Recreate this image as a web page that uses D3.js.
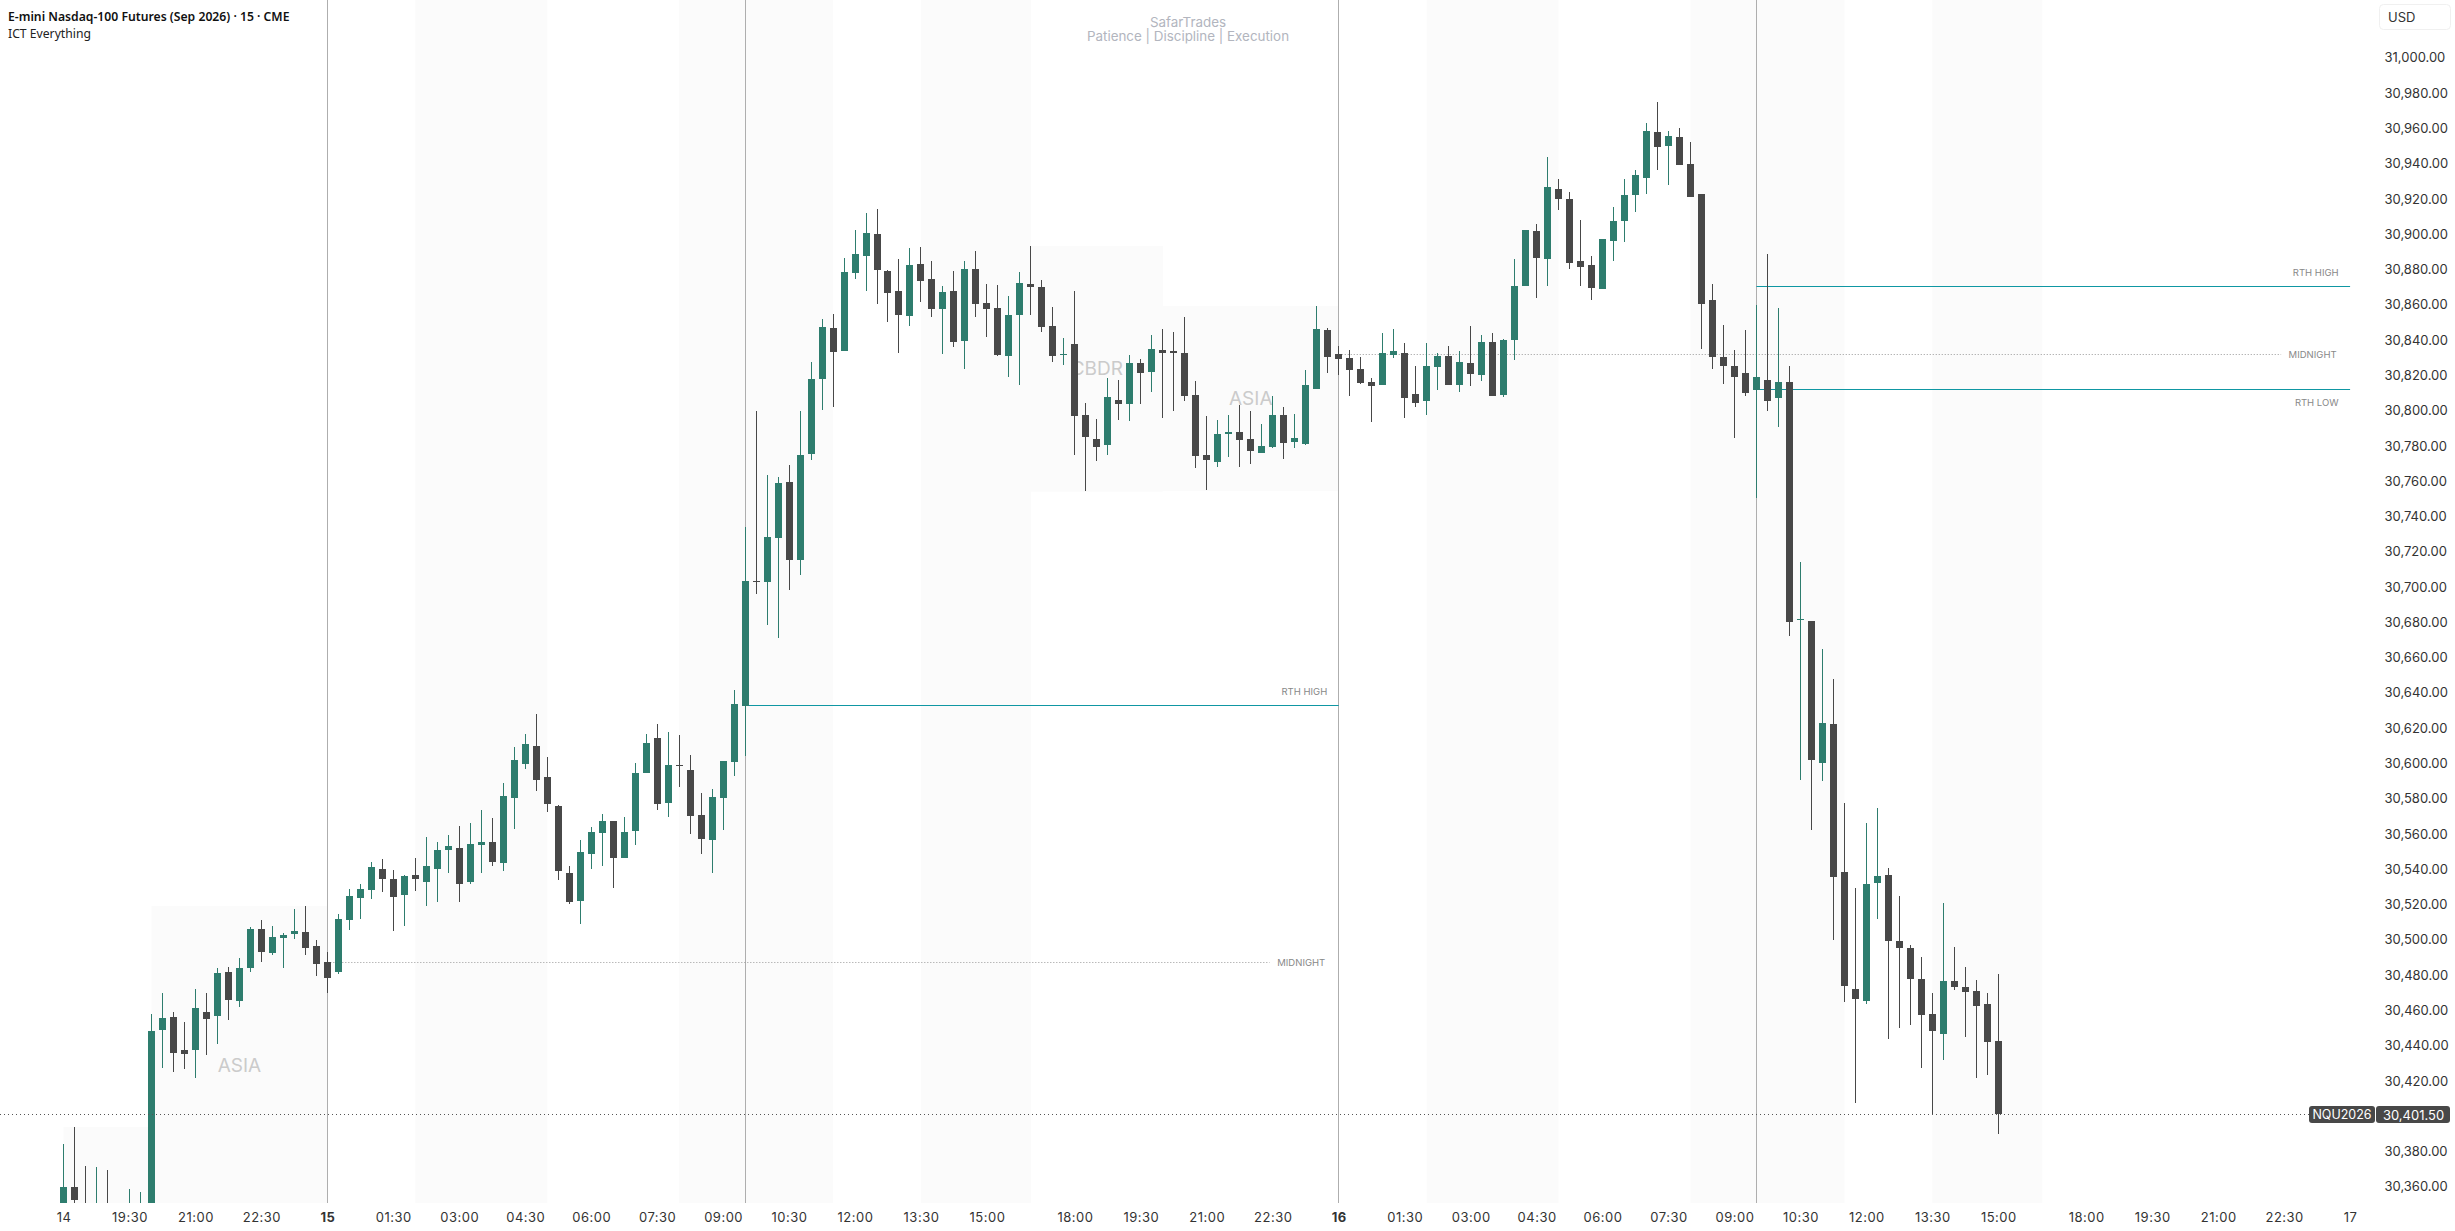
<!DOCTYPE html>
<html>
<head>
<meta charset="utf-8">
<title>NQU2026</title>
<script src="https://cdn.jsdelivr.net/npm/d3@7"></script>
<style>
  html, body { margin: 0; padding: 0; background: #fff; overflow: hidden; }
  svg { display: block; font-family: Inter, sans-serif; }
</style>
</head>
<body>
<svg id="chart" width="2455" height="1231"></svg>
<script>
// 15 min bars, index 0 = 14th 18:00. Session is 92 bars (17:00-18:00 is closed)
const opens = [
  30345,30360.2,30349,30338,30346,30336,30334,30338,30345,30449.2,
  30456.6,30437.8,30437.8,30459.4,30457.1,30482.1,30465.6,30484.3,30506.5,30492.8,
  30501.4,30503.6,30504.8,30496.8,30487.7,30482.1,30511.6,30524,30528.6,30540.5,
  30534.8,30525.7,30537.1,30533.1,30540.5,30551.2,30552.4,30533.1,30554.1,30555.8,
  30543.9,30580.7,30600,30610.2,30592.6,30576.2,30538.2,30522.3,30549,30560.9,
  30567.7,30546.7,30562,30594.9,30614.8,30577.9,30599.4,30596.6,30571.1,30556.9,
  30580.7,30601.1,30632.9,30703.7,30703.2,30728.1,30759.9,30715.6,30775.7,30818.3,
  30847.2,30834.1,30878.4,30888,30900.5,30879.5,30868.2,30854,30883.5,30875,
  30858,30868.2,30839.8,30880.6,30861.4,30858.5,30831.3,30854.6,30872.1,30870.4,
  30848.3,30832,30838.1,30797.9,30784.2,30780.8,30806.4,30804.1,30827.3,30822.2,
  30834.7,30834.1,30833,30809.2,30775.2,30771.2,30787.2,30788.2,30784.2,30776.3,
  30779.7,30797.8,30782.5,30781.4,30812.6,30846,30832.4,30830.2,30823.9,30816.5,
  30814.8,30831.9,30833,30809.7,30805.8,30825.1,30831.3,30814.8,30827.3,30820.5,
  30839.2,30809.2,30840.3,30871,30902.2,30886.3,30926,30920.3,30885.1,30882.9,
  30869.3,30896.5,30907.8,30922.6,30932.2,30958.3,30950.3,30955.5,30940.1,30923.1,
  30863,30830.7,30825.6,30821.6,30812,30817.7,30807.5,30816.5,30681.8,30681,
  30600.5,30622.6,30538.8,30472.4,30465.6,30532.5,30537.1,30499.7,30495.7,30478.1,
  30458.3,30446.9,30477,30473.6,30471.3,30463.9,30443
];
const highs = [
  30384.6,30394.2,30372.1,30371.5,30369.8,30350,30359,30357.3,30458.3,30470.2,
  30459.4,30453.7,30472.4,30470.2,30484.3,30484.9,30490,30507.6,30511.6,30508.2,
  30504.2,30517.8,30519.5,30500.2,30493.4,30515,30529.1,30532,30544.4,30546.1,
  30539.9,30537.1,30546.7,30558.6,30555.8,30559.8,30564.9,30566.6,30573.9,30569.4,
  30589.2,30609.7,30617,30628.4,30604,30576.8,30542.2,30556.9,30564.3,30571.7,
  30567.7,30570,30600.6,30617,30622.7,30618.2,30616.5,30605.1,30583.6,30585.8,
  30601.7,30642,30734.4,30800.1,30763.8,30762.7,30769.5,30800.1,30827.9,30852.3,
  30855.1,30886.9,30902.7,30912.4,30914.7,30880.1,30886.3,30892.5,30893.1,30885.2,
  30871,30879.5,30885.2,30890.8,30872.1,30871.6,30865.3,30878.9,30893.7,30874.4,
  30859.1,30841.5,30868.2,30804.7,30795.6,30818.8,30817.7,30831.9,30829.6,30843.2,
  30846.6,30844.9,30853.4,30817.1,30797.3,30795,30797.8,30803.5,30800.1,30792.7,
  30808.6,30802.4,30798.4,30823.4,30859.6,30847.2,30837,30834.7,30830.7,30818.8,
  30844.3,30846.6,30838.7,30825.6,30838.7,30833,30837,30834.1,30848.3,30843.2,
  30844.3,30840.9,30886.3,30902.7,30906.1,30944.1,30931.6,30924.3,30908.4,30888,
  30897.6,30915.8,30931.6,30936.7,30963.4,30975.3,30958.9,30960.6,30952.6,30923.1,
  30872.1,30848.9,30834.7,30846,30860.2,30889.1,30858.5,30825.6,30714.5,30681,
  30665.2,30648.2,30577.9,30529.7,30566.6,30575.1,30541,30525.2,30497.4,30490.6,
  30470.2,30521.2,30496.3,30484.9,30477.5,30470.2,30480.9
];
const lows = [
  30335,30340,30335,30332,30330,30328,30328,30330,30340,30427.6,
  30425.4,30427.1,30422,30435,30441.3,30454.9,30462.2,30482.1,30487.7,30491.7,
  30484.3,30500.8,30491.7,30479.8,30470.2,30480.9,30505.9,30512.1,30523.5,30527.4,
  30505.3,30508.2,30528,30519.5,30521.8,30538.2,30521.8,30532,30538.2,30542.2,
  30539.3,30563.2,30597.2,30584.7,30572.8,30534.2,30520.6,30509.3,30540.5,30542.2,
  30529.7,30546.7,30554.1,30594.9,30573.9,30570,30587,30560.3,30549,30538.2,
  30562.6,30593.2,30604.5,30696.4,30678.8,30671.4,30698.6,30707.1,30772.3,30800.7,
  30802.4,30834.1,30875,30868.2,30860.8,30850.6,30833,30848.3,30861.9,30853.4,
  30832.4,30836.4,30823.9,30853.4,30842.1,30831.3,30819.4,30814.9,30854.6,30844.9,
  30827.9,30826.2,30775.2,30754.8,30771.8,30775.2,30795,30794.5,30804.1,30810.9,
  30796.2,30800.1,30805.8,30767.8,30755.3,30768.4,30774,30768.4,30770.1,30776.3,
  30779.1,30772.9,30779.1,30780.8,30812.6,30821.6,30820.5,30808.6,30815.4,30793.9,
  30814.8,30830.2,30796.1,30802.4,30797.8,30812,30814.8,30810.9,30814.3,30817.1,
  30808.6,30808,30829,30871,30864.2,30871,30914.1,30880.6,30871,30863,
  30869.3,30885.1,30895.9,30912.9,30923.1,30936.7,30928.2,30939.6,30921.4,30835.2,
  30823.9,30815.4,30784.8,30808.6,30750.8,30800.1,30791,30672.5,30590.9,30562.5,
  30590.3,30500.2,30465.1,30407.8,30463.9,30512.1,30444.1,30450.3,30452,30427.6,
  30401,30432.2,30471.9,30445.2,30422,30423.7,30390.2
];
const closes = [
  30360.2,30353,30342,30346,30338,30342,30345,30348,30448.6,30456,
  30436.1,30435.6,30461.7,30455.4,30481.5,30466.2,30484.3,30506.5,30493.4,30501.9,
  30503.1,30505.3,30495.7,30486.6,30478.7,30512.1,30525.2,30529.1,30541.6,30534.8,
  30524.6,30536.5,30534.8,30542.2,30551.2,30553.5,30532,30554.7,30555.8,30544.4,
  30581.9,30602.3,30611.4,30590.9,30577.3,30539.3,30521.8,30550.1,30561.5,30567.7,
  30546.7,30561.5,30594.9,30611.9,30577.3,30599.4,30599,30570.5,30557.5,30581.3,
  30601.7,30634,30703.7,30703.3,30728.7,30759.3,30715.6,30775.2,30818.3,30847.8,
  30833.6,30878.9,30889.1,30901,30880.1,30867,30854.6,30882.9,30873.8,30858,
  30867.6,30839.2,30880.6,30860.8,30858,30831.9,30854.6,30872.7,30870.4,30847.8,
  30831.3,30832.4,30797.3,30785.4,30779.7,30808.1,30804.1,30827.3,30821.7,30835.3,
  30833,30833,30808.6,30774.6,30772.3,30787.1,30788.2,30783.7,30777.4,30780.3,
  30797.8,30782,30784.8,30814.8,30846.6,30830.7,30829.6,30823.4,30816,30814.3,
  30833,30834.1,30807.5,30804.6,30825.6,30831.3,30814.8,30827.9,30821.1,30839.2,
  30808.6,30840.4,30871,30902.7,30886.8,30927.1,30920.3,30884,30881.7,30869.8,
  30897.6,30907.8,30922.6,30933.9,30958.9,30949.8,30956,30939.6,30921.4,30860.8,
  30830.7,30825.6,30819.4,30810.3,30819.4,30805.8,30816.5,30680.5,30682.2,30602.2,
  30623.2,30535.9,30474.1,30466.8,30532,30536.5,30499.7,30495.7,30478.1,30457.7,
  30448.6,30477,30473.6,30470.7,30462.8,30442.4,30401.5
];

const lastPrice = 30401.5;
const priceTicks = d3.range(30360, 31001, 20);
const timeTickBars = [0,6,12,18,24,30,36,42,48,54,60,66,72,78,84,92,98,104,110,116,122,128,134,140,146,152,158,164,170,176,184,190,196,202,208];
const timeTickLabels = ["14","19:30","21:00","22:30","15","01:30","03:00","04:30","06:00","07:30","09:00","10:30","12:00","13:30","15:00","18:00","19:30","21:00","22:30","16","01:30","03:00","04:30","06:00","07:30","09:00","10:30","12:00","13:30","15:00","18:00","19:30","21:00","22:30","17"];
const boldTicks = ["15", "16"];

// full height kill zone bands, bar index from/to
const bandFrom = [32, 56, 78, 124, 148, 170];
const bandTo = [44, 70, 88, 136, 162, 180];

// session boxes, the label sits in the middle of the box
const boxNames = ["", "ASIA", "CBDR", "ASIA"];
const boxFrom = [0, 8, 88, 100];
const boxTo = [8, 24, 100, 116];
const boxHigh = [30394.2, 30519.5, 30893.7, 30859.6];
const boxLow = [30328, 30338.5, 30754.4, 30754.8];

const sessionBars = [24, 62, 116, 154];

// levels: name, price, bar from, bar to
const levelNames = ["RTH HIGH", "MIDNIGHT", "RTH HIGH", "RTH LOW", "MIDNIGHT"];
const levelPrices = [30633.3, 30487.6, 30870.8, 30812.4, 30832.3];
const levelFrom = [62, 24, 154, 154, 116];
const levelTo = [116, 116, 208, 208, 208];

const green = "#2e7d6e";
const dark = "#484848";
const band = "#fbfbfb";

const plotBottom = 1203;

const x = d3.scaleLinear().domain([0, 208]).range([63.5, 2350.1]);
const y = d3.scaleLinear().domain([30351.16, 31033.15]).range([plotBottom, 0]);

const svg = d3.select("#chart");

svg.append("defs").append("clipPath").attr("id", "plot")
  .append("rect").attr("width", 2355).attr("height", plotBottom);

const plot = svg.append("g").attr("clip-path", "url(#plot)");

// Bands
plot.selectAll("rect.band")
  .data(bandFrom)
  .join("rect")
  .classed("band", true)
  .attr("x", (d) => x(d))
  .attr("y", 0)
  .attr("width", (d, i) => x(bandTo[i]) - x(d))
  .attr("height", plotBottom)
  .attr("fill", band);

// Session boxes
plot.selectAll("rect.box")
  .data(boxFrom)
  .join("rect")
  .classed("box", true)
  .attr("x", (d) => x(d))
  .attr("y", (d, i) => y(boxHigh[i]))
  .attr("width", (d, i) => x(boxTo[i]) - x(d))
  .attr("height", (d, i) => y(boxLow[i]) - y(boxHigh[i]))
  .attr("fill", band);

plot.selectAll("text.box-label")
  .data(boxNames)
  .join("text")
  .classed("box-label", true)
  .attr("x", (d, i) => x((boxFrom[i] + boxTo[i]) / 2))
  .attr("y", (d, i) => y((boxHigh[i] + boxLow[i]) / 2))
  .attr("text-anchor", "middle")
  .attr("dominant-baseline", "central")
  .attr("font-size", 19)
  .attr("fill", "#cbcbcb")
  .text((d) => d);

// Session lines
plot.selectAll("rect.session")
  .data(sessionBars)
  .join("rect")
  .classed("session", true)
  .attr("x", (d) => Math.round(x(d) - 0.5))
  .attr("y", 0)
  .attr("width", 1)
  .attr("height", plotBottom)
  .attr("fill", "#aeaeae");

// Levels
levelNames.forEach(function (name, i) {
  const midnight = name === "MIDNIGHT";
  const end = x(levelTo[i]);
  const ly = Math.round(y(levelPrices[i])) + 0.5;
  plot.append("line")
    .attr("x1", x(levelFrom[i]))
    .attr("x2", midnight ? end - 69 : end)
    .attr("y1", ly)
    .attr("y2", ly)
    .attr("stroke", midnight ? "#999" : "#0f97a3")
    .attr("stroke-width", 1)
    .attr("stroke-dasharray", midnight ? "1 2" : null);
  plot.append("text")
    .attr("x", end - (midnight ? 13.5 : 11.5))
    .attr("y", ly + (midnight ? 0 : name === "RTH HIGH" ? -14 : 13))
    .attr("text-anchor", "end")
    .attr("dominant-baseline", "central")
    .attr("font-size", 9.5)
    .attr("fill", "#888")
    .text(name);
});

// Candles
const candles = plot.append("g").selectAll("g")
  .data(closes)
  .join("g")
  .attr("fill", (d, i) => (d >= opens[i] ? green : dark))
  .attr("shape-rendering", "crispEdges");

candles.append("rect")
  .attr("x", (d, i) => Math.round(x(i) - 0.5))
  .attr("y", (d, i) => y(highs[i]))
  .attr("width", 1)
  .attr("height", (d, i) => y(lows[i]) - y(highs[i]));

candles.append("rect")
  .attr("x", (d, i) => Math.round(x(i) - 0.5) - 3)
  .attr("y", (d, i) => y(Math.max(d, opens[i])))
  .attr("width", 7)
  .attr("height", (d, i) => Math.max(1, Math.abs(y(d) - y(opens[i]))));

// Last price line
const lastY = Math.round(y(lastPrice)) + 0.5;
svg.append("line")
  .attr("x1", 0)
  .attr("x2", 2309)
  .attr("y1", lastY)
  .attr("y2", lastY)
  .attr("stroke", "#555")
  .attr("stroke-dasharray", "1 3");

// Axes
const yAxis = svg.append("g")
  .attr("transform", "translate(2379,-0.7)")
  .call(d3.axisRight(y).tickValues(priceTicks).tickSize(0).tickPadding(5.5)
    .tickFormat(d3.format(",.2f")));
yAxis.select(".domain").remove();
yAxis.selectAll("text")
  .attr("font-family", "Inter, sans-serif")
  .attr("font-size", 13)
  .attr("fill", "#333");

const xAxis = svg.append("g")
  .attr("transform", `translate(0,${plotBottom})`)
  .call(d3.axisBottom(x).tickValues(timeTickBars).tickSize(0).tickPadding(9.5)
    .tickFormat((d, i) => timeTickLabels[i]));
xAxis.select(".domain").remove();
xAxis.selectAll("text")
  .attr("font-family", "Inter, sans-serif")
  .attr("font-size", 13)
  .attr("letter-spacing", "0.5px")
  .attr("fill", "#333")
  .attr("font-weight", (d, i) => (boldTicks.includes(timeTickLabels[i]) ? 700 : 400));

// Price tags
svg.append("rect").attr("x", 2309).attr("y", 1106).attr("width", 66).attr("height", 17).attr("rx", 3).attr("fill", dark);
svg.append("rect").attr("x", 2376).attr("y", 1106).attr("width", 74).attr("height", 17).attr("rx", 3).attr("fill", dark);
svg.append("text").attr("x", 2342).attr("y", 1114.5).attr("text-anchor", "middle").attr("dominant-baseline", "central")
  .attr("font-size", 12.5).attr("fill", "#fff").text("NQU2026");
svg.append("text").attr("x", 2413.5).attr("y", 1114.5).attr("text-anchor", "middle").attr("dominant-baseline", "central")
  .attr("font-size", 13).attr("fill", "#fff").text(d3.format(",.2f")(lastPrice));

// Currency button
svg.append("rect").attr("x", 2379.5).attr("y", 4.5).attr("width", 71).attr("height", 25).attr("rx", 4)
  .attr("fill", "#fff").attr("stroke", "#f0f0f0");
svg.append("text").attr("x", 2388).attr("y", 17).attr("dominant-baseline", "central")
  .attr("font-size", 13).attr("fill", "#333").text("USD");

// Legend
svg.append("text").attr("x", 8).attr("y", 16.5).attr("dominant-baseline", "central")
  .attr("font-family", "'Noto Sans', sans-serif").attr("font-size", 12.2).attr("font-weight", 600).attr("fill", "#111")
  .text("E-mini Nasdaq-100 Futures (Sep 2026) · 15 · CME");
svg.append("text").attr("x", 8).attr("y", 33.5).attr("dominant-baseline", "central")
  .attr("font-family", "'Noto Sans', sans-serif").attr("font-size", 12.2).attr("fill", "#222")
  .text("ICT Everything");

// Watermark
svg.append("text").attr("x", 1188).attr("y", 22).attr("text-anchor", "middle").attr("dominant-baseline", "central")
  .attr("font-size", 13.4).attr("fill", "#b2b5be").text("SafarTrades");
svg.append("text").attr("x", 1188).attr("y", 36).attr("text-anchor", "middle").attr("dominant-baseline", "central")
  .attr("font-size", 13.4).attr("fill", "#b2b5be").text("Patience | Discipline | Execution");
</script>
</body>
</html>
